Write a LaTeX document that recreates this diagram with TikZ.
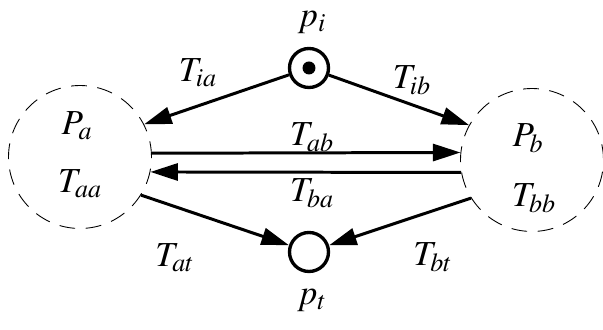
\documentclass[tikz,border=0pt]{standalone}
\usepackage{mathptmx}
\usetikzlibrary{arrows.meta}
\tikzset{
  lugar/.style={circle, draw, line width=1.9pt, minimum size=0.78cm, inner sep=0pt},
  marca/.style={circle, fill, minimum size=0.26cm, inner sep=0pt},
  zona/.style={circle, draw, line width=0.5pt, dash pattern=on 9pt off 6pt,
               minimum size=2.86cm, inner sep=0pt},
  etiq/.style={font=\fontsize{20}{24}\selectfont, inner sep=1pt},
  arc/.style={line width=1.7pt, -{Triangle[length=5.5mm, width=3.4mm]}}
}
\begin{document}
\begin{tikzpicture}[x=0.02cm, y=-0.02cm]
  \useasboundingbox (0,0) rectangle (603,330);
  % lugares
  \node (pi) [lugar] at (309,68) {};
  \node (tok) [marca] at (309,68) {};
  \node (pt) [lugar] at (309,252) {};
  \node (pa) [zona] at (80,157) {};
  \node (pb) [zona] at (532,160) {};
  % textos
  \node (lpi) [etiq] at (312,22) {$p_i$};
  \node (lpt) [etiq] at (312,300) {$p_t$};
  \node (lpa) [etiq] at (77,126) {$P_a$};
  \node (ltaa) [etiq] at (80,184) {$T_{aa}$};
  \node (lpb) [etiq] at (528,138) {$P_b$};
  \node (ltbb) [etiq] at (534,198) {$T_{bb}$};
  \node (ltia) [etiq] at (198,73) {$T_{ia}$};
  \node (ltib) [etiq] at (412,80) {$T_{ib}$};
  \node (ltab) [etiq] at (312,137) {$T_{ab}$};
  \node (ltba) [etiq] at (312,193) {$T_{ba}$};
  \node (ltat) [etiq] at (175,258) {$T_{at}$};
  \node (ltbt) [etiq] at (433,257) {$T_{bt}$};
  % arcos
  \draw [arc] (pi) -- (pa.27);
  \draw [arc] (pi) -- (pb.151);
  \draw [arc] (pa.3) -- (pb.174);
  \draw [arc] (pb.190) -- (pa.-12);
  \draw [arc] (pa.-32) -- (pt);
  \draw [arc] (pb.212) -- (pt);
\end{tikzpicture}
\end{document}
